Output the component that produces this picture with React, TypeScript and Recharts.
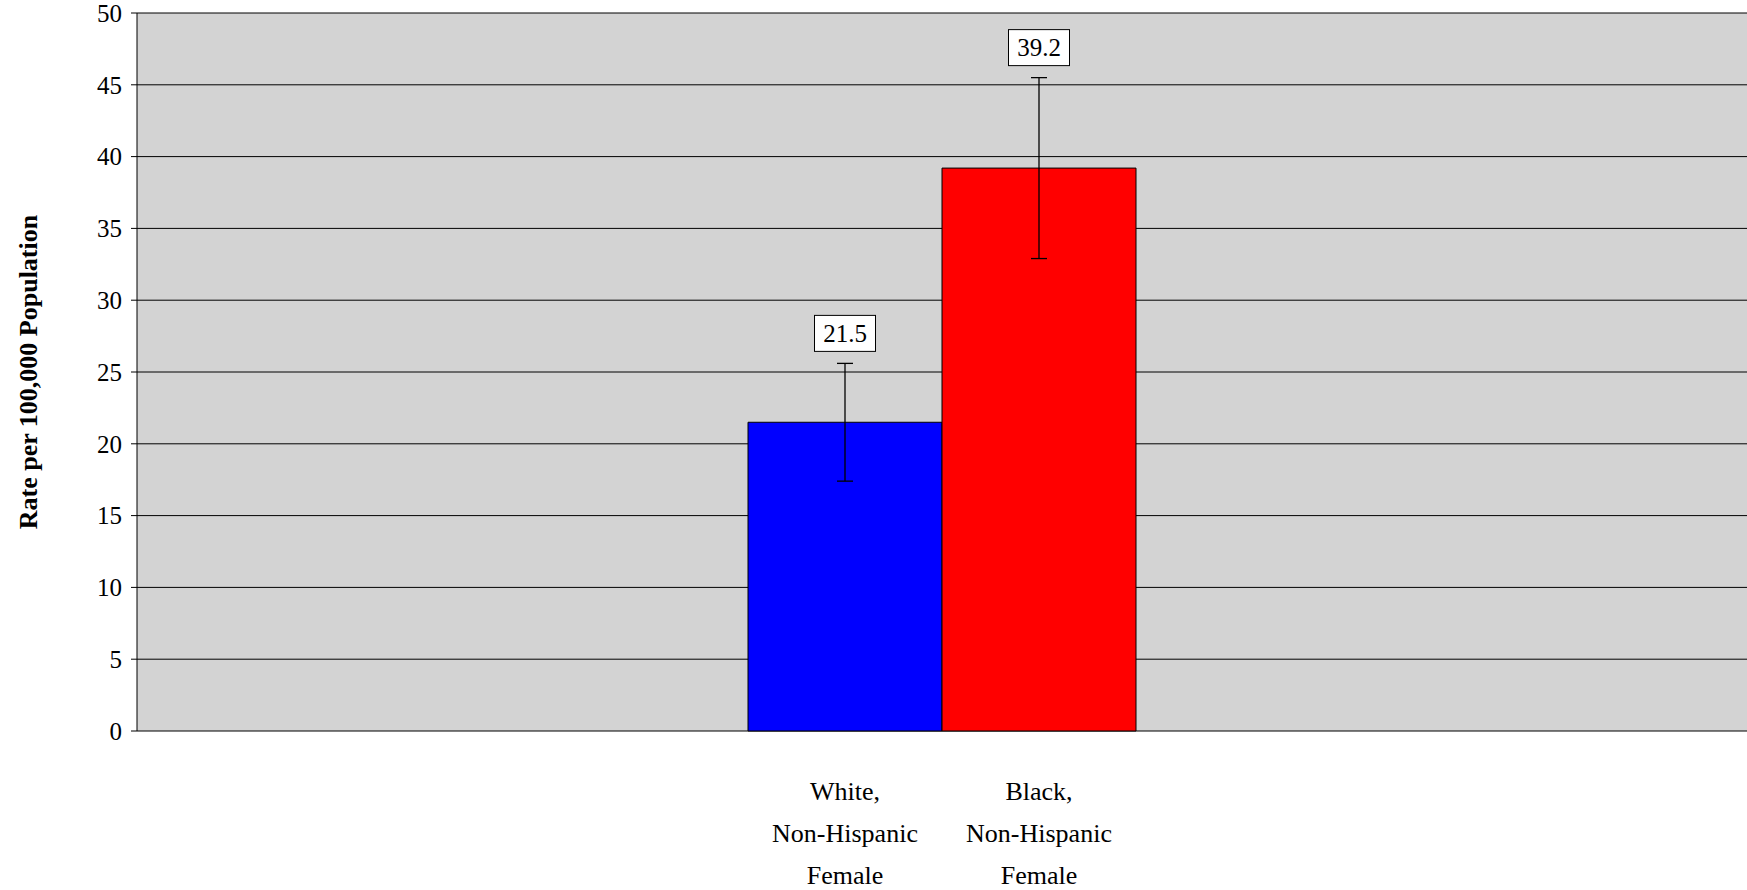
import React from "react";
import { BarChart, Bar, XAxis, YAxis, CartesianGrid, ErrorBar, LabelList } from "recharts";

const categories = ["Female"];
const seriesKeys = ["white", "black"];
const seriesLabelLines = [
  ["White,", "Non-Hispanic", "Female"],
  ["Black,", "Non-Hispanic", "Female"],
];
const rates = [21.5, 39.2];
const lowerCI = [17.4, 32.9];
const upperCI = [25.6, 45.5];
const seriesColors = ["#0000FF", "#FF0000"];
const yTicks = [0, 5, 10, 15, 20, 25, 30, 35, 40, 45, 50];
const yTitle = "Rate per 100,000 Population";

const FONT = "'Liberation Serif', 'Times New Roman', serif";

const data = categories.map((name) => {
  const row: any = { name };
  seriesKeys.forEach((k, i) => {
    row[k] = rates[i];
    row[k + "Err"] = [rates[i] - lowerCI[i], upperCI[i] - rates[i]];
  });
  return row;
});

function getBox(props: any) {
  const vb = props.viewBox || {};
  const x = Number(props.x ?? vb.x);
  const y = Number(props.y ?? vb.y);
  const width = Number(props.width ?? vb.width);
  const height = Number(props.height ?? vb.height);
  return { x, y, width, height };
}

const makeValueLabel = (si: number) => (props: any) => {
  const { x, y, width, height } = getBox(props);
  const value = rates[si];
  const pxPerUnit = height / value;
  const errTop = y - (upperCI[si] - value) * pxPerUnit;
  const cx = x + width / 2;
  const bw = 61;
  const bh = 36;
  const bottom = errTop - 12;
  return (
    <g>
      <rect x={cx - bw / 2} y={bottom - bh} width={bw} height={bh} fill="#FFFFFF" stroke="#000" strokeWidth={1} />
      <text
        x={cx}
        y={bottom - bh / 2}
        textAnchor="middle"
        dominantBaseline="central"
        fontFamily={FONT}
        fontSize={25}
        fill="#000"
      >
        {String(value)}
      </text>
    </g>
  );
};

const makeCategoryLabel = (si: number) => (props: any) => {
  const { x, y, width, height } = getBox(props);
  const cx = x + width / 2;
  const base = y + height;
  const offsets = [69, 111, 153];
  return (
    <g>
      {seriesLabelLines[si].map((line, li) => (
        <text
          key={li}
          x={cx}
          y={base + offsets[li]}
          textAnchor="middle"
          fontFamily={FONT}
          fontSize={26}
          fill="#000"
        >
          {line}
        </text>
      ))}
    </g>
  );
};

const YTitle = (props: any) => {
  const vb = props.viewBox || {};
  const x = 28;
  const y = Number(vb.y) + Number(vb.height) / 2;
  return (
    <text
      x={x}
      y={y}
      transform={`rotate(-90, ${x}, ${y})`}
      textAnchor="middle"
      dominantBaseline="central"
      fontFamily={FONT}
      fontWeight="bold"
      fontSize={26}
      fill="#000"
    >
      {yTitle}
    </text>
  );
};

export default function App() {
  return (
    <div style={{ position: "fixed", left: 0, top: 0, width: 1747, height: 890, background: "#fff" }}>
      <BarChart
        width={1747}
        height={890}
        data={data}
        margin={{ top: 13, right: 0, bottom: 159, left: 0 }}
        barGap={0}
      >
        <CartesianGrid vertical={false} stroke="#000" strokeWidth={1} fill="#D3D3D3" fillOpacity={1} />
        <XAxis dataKey="name" hide />
        <YAxis
          width={137}
          domain={[0, 50]}
          ticks={yTicks}
          interval={0}
          tickLine={{ stroke: "#000" }}
          axisLine={{ stroke: "#000" }}
          tickSize={6}
          tickMargin={9}
          tick={{ fill: "#000", fontSize: 25, fontFamily: FONT }}
          label={<YTitle />}
        />
        {seriesKeys.map((k, si) => (
          <Bar
            key={k}
            dataKey={k}
            fill={seriesColors[si]}
            stroke="#000"
            strokeWidth={1}
            barSize={194}
            isAnimationActive={false}
          >
            <ErrorBar dataKey={k + "Err"} width={8} stroke="#000" strokeWidth={1.3} direction="y" />
            <LabelList dataKey={k} content={makeValueLabel(si)} />
            <LabelList dataKey={k} content={makeCategoryLabel(si)} />
          </Bar>
        ))}
      </BarChart>
    </div>
  );
}
